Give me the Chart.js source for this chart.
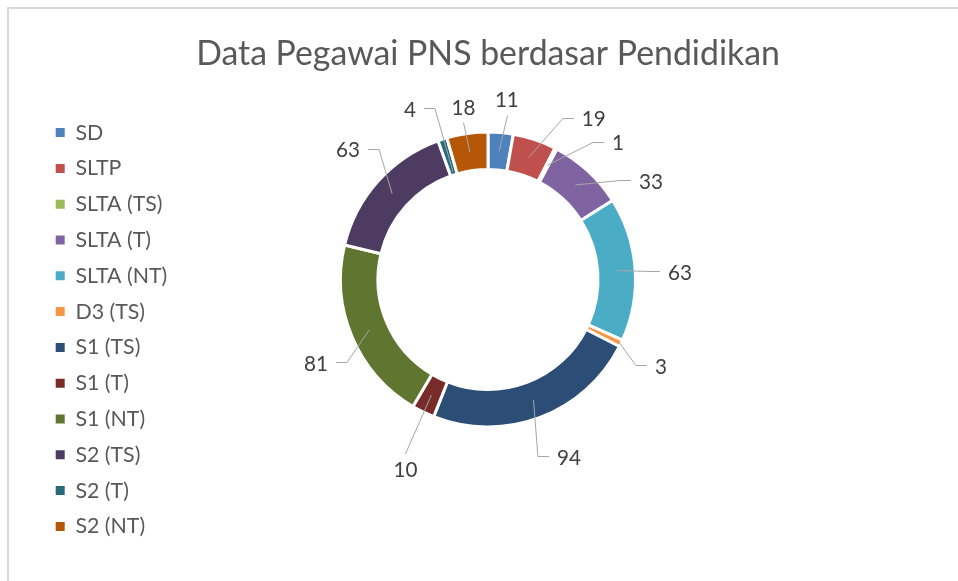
<!DOCTYPE html>
<html><head><meta charset="utf-8">
<script src="https://cdn.jsdelivr.net/npm/chart.js@4.4.1/dist/chart.umd.min.js"></script>
<style>html,body{margin:0;padding:0;background:#fff;}canvas{display:block;}</style>
</head><body><canvas id="c" width="958" height="581"></canvas>
<script>
// ---- data ----
const TITLE = 'Data Pegawai PNS berdasar Pendidikan';
const categories = ['SD','SLTP','SLTA (TS)','SLTA (T)','SLTA (NT)','D3 (TS)','S1 (TS)','S1 (T)','S1 (NT)','S2 (TS)','S2 (T)','S2 (NT)'];
const values = [11,19,1,33,63,3,94,10,81,63,4,18];
const colors = ['#4F81BD','#C0504D','#9BBB59','#8064A2','#4BACC6','#F79646','#2C4D75','#772C2A','#5F7530','#4D3B62','#276A7C','#B65708'];

// ---- label placement (relative to each slice) ----
const labelAngleShift = [1.05,14.95,16.15,16.15,1.95,1.05,-3.8,-2.6,-2.95,0.95,-6.6,0];
const labelGap = [33,44.8,41,42.9,44.6,46.1,47.6,59.6,43.7,43.2,40,26.7];
const leaderType = ['v','h','h','h','h','h','h','v','h','h','h','v'];
const anchorFrac = [0.5,0.5,0.5,0.5,0.5,0.95,0.5,0.5,0.5,0.5,0.08,0.5];

const FAMILY = 'Lato, "Open Sans", sans-serif';
const mctx = document.createElement('canvas').getContext('2d');
function fitSize(text, target){ mctx.font = '100px ' + FAMILY; return 100 * target / mctx.measureText(text).width; }
function midOff(size, ch){ mctx.font = size + 'px ' + FAMILY; mctx.textBaseline = 'middle'; const m = mctx.measureText(ch); return (m.actualBoundingBoxDescent - m.actualBoundingBoxAscent) / 2; }

const titleSize = fitSize(TITLE, 584);
const legendSize = fitSize('SLTA (NT)', 92);
const labelSize = fitSize('94', 24);
const legendStep = 35.8;
const legendPad = legendStep - legendSize;
const titleLH = titleSize * 1.2;
const titleMid = 52.5 - midOff(titleSize, 'D');
const titlePadTop = titleMid - titleLH / 2;
const legendMid = 132 - midOff(legendSize, 'S');
const legendTop = legendMid - legendPad - legendSize / 2;
const titlePadBottom = legendTop - titlePadTop - titleLH;
const padL = 55.7 - legendPad;
const padR = padL + 958 - 2 * 488;

const framePlugin = { id: 'frame', beforeDraw(chart){ const c = chart.ctx; c.save(); c.fillStyle = '#fff'; c.fillRect(0,0,chart.width,chart.height); c.fillStyle = '#D9D9D9'; c.fillRect(7,7,chart.width-7,2); c.fillRect(7,7,2,chart.height-7); c.restore(); } };
const areaPlugin = { id: 'area', afterLayout(chart){ const s = 298, cx = 488, cy = 279.5; chart.chartArea = {left: cx - s/2, right: cx + s/2, top: cy - s/2, bottom: cy + s/2, width: s, height: s}; } };
const labelPlugin = {
  id: 'sliceLabels',
  afterDatasetsDraw(chart){
    const ctx = chart.ctx; const meta = chart.getDatasetMeta(0); const data = chart.data.datasets[0].data;
    ctx.save();
    ctx.font = labelSize + 'px ' + FAMILY; ctx.textAlign = 'center'; ctx.textBaseline = 'middle';
    const m = ctx.measureText('0'); const digitH = m.actualBoundingBoxAscent + m.actualBoundingBoxDescent; const off = (m.actualBoundingBoxDescent - m.actualBoundingBoxAscent) / 2;
    meta.data.forEach((arc, i) => {
      const p = arc.getProps(['x','y','startAngle','endAngle','innerRadius','outerRadius'], true);
      const mid = (p.startAngle + p.endAngle) / 2;
      const ar = p.innerRadius + anchorFrac[i] * (p.outerRadius - p.innerRadius);
      const ax = p.x + ar * Math.cos(mid), ay = p.y + ar * Math.sin(mid);
      const la = mid + labelAngleShift[i] * Math.PI / 180; const lr = p.outerRadius + labelGap[i];
      const lx = p.x + lr * Math.cos(la), ly = p.y + lr * Math.sin(la);
      const text = String(data[i]); const w = ctx.measureText(text).width;
      ctx.strokeStyle = '#A6A6A6'; ctx.lineWidth = 1; ctx.beginPath();
      if (leaderType[i] === 'h') { const dir = lx > p.x ? -1 : 1; const sx = lx + dir * (w/2 + 8); const sy = Math.round(ly - 1) + 0.5; ctx.moveTo(sx, sy); ctx.lineTo(sx + dir * 11, sy); ctx.lineTo(ax, ay); }
      else { const dir = ly < p.y ? 1 : -1; const sx = Math.round(lx) + 0.5; const sy = ly + dir * (digitH/2 + 8); ctx.moveTo(sx, sy); ctx.lineTo(ax, ay); }
      ctx.stroke();
      ctx.fillStyle = '#404040'; ctx.fillText(text, lx, ly - off);
    });
    ctx.restore();
  }
};

new Chart(document.getElementById('c'), {
  type: 'doughnut',
  data: { labels: categories, datasets: [{ data: values, backgroundColor: colors, borderColor: '#ffffff', borderWidth: 3, hoverOffset: 0 }] },
  options: {
    responsive: false, animation: false, cutout: '74.6%', rotation: 0,
    layout: { padding: { left: padL, right: padR, top: 0, bottom: 0 } },
    plugins: {
      title: { display: true, text: TITLE, color: '#595959', font: { family: FAMILY, size: titleSize, weight: 'normal', lineHeight: 1.2 }, padding: { top: titlePadTop, bottom: titlePadBottom } },
      legend: { position: 'left', align: 'start', fullSize: false, labels: { boxWidth: 9, boxHeight: 9, padding: legendPad, color: '#595959', font: { family: FAMILY, size: legendSize },
        generateLabels(chart){ return Chart.controllers.doughnut.overrides.plugins.legend.labels.generateLabels(chart).map(it => Object.assign({}, it, { lineWidth: 0 })); } } },
      tooltip: { enabled: false }
    }
  },
  plugins: [framePlugin, areaPlugin, labelPlugin]
});
</script></body></html>
